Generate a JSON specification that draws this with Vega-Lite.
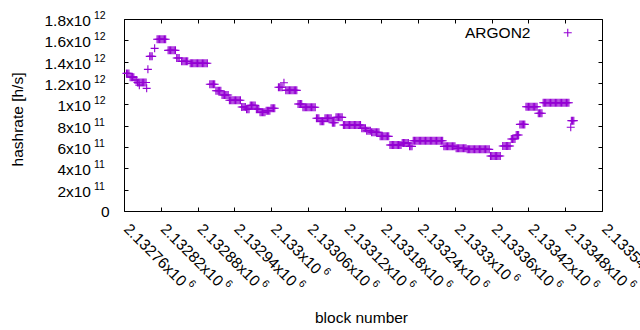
{
"$schema":"https://vega.github.io/schema/vega-lite/v6.json",
"width":478,"height":192,
"autosize":{"type":"none"},
"padding":{"left":124,"top":19,"right":38,"bottom":119},
"background":"white",
"config":{"view":{"stroke":"black","strokeWidth":1},
"axis":{"labelFont":"Liberation Sans","labelFontSize":15.5,"labelColor":"black","titleFont":"Liberation Sans","titleFontSize":15.5,"titleFontWeight":"normal","titleColor":"black","tickColor":"black","tickWidth":1,"domain":false,"grid":false}},
"data":{"values":[
{"block":2132764,"hashrate":1.29e12},{"block":2132766,"hashrate":1.29e12},{"block":2132768,"hashrate":1.29e12},
{"block":2132770,"hashrate":1.255e12},{"block":2132772,"hashrate":1.255e12},{"block":2132774,"hashrate":1.255e12},{"block":2132776,"hashrate":1.255e12},
{"block":2132778,"hashrate":1.228e12},{"block":2132780,"hashrate":1.228e12},
{"block":2132782,"hashrate":1.205e12},{"block":2132784,"hashrate":1.205e12},{"block":2132785,"hashrate":1.18e12},{"block":2132786,"hashrate":1.205e12},{"block":2132788,"hashrate":1.205e12},{"block":2132790,"hashrate":1.205e12},{"block":2132792,"hashrate":1.205e12},{"block":2132794,"hashrate":1.205e12},{"block":2132796,"hashrate":1.205e12},{"block":2132797,"hashrate":1.15e12},
{"block":2132799,"hashrate":1.328e12},
{"block":2132802,"hashrate":1.45e12},{"block":2132804,"hashrate":1.45e12},{"block":2132806,"hashrate":1.45e12},
{"block":2132810,"hashrate":1.525e12},
{"block":2132814,"hashrate":1.61e12},{"block":2132816,"hashrate":1.61e12},{"block":2132818,"hashrate":1.61e12},{"block":2132820,"hashrate":1.61e12},{"block":2132822,"hashrate":1.61e12},{"block":2132824,"hashrate":1.61e12},{"block":2132826,"hashrate":1.61e12},{"block":2132828,"hashrate":1.61e12},
{"block":2132832,"hashrate":1.506e12},{"block":2132834,"hashrate":1.506e12},{"block":2132836,"hashrate":1.506e12},{"block":2132838,"hashrate":1.506e12},{"block":2132840,"hashrate":1.506e12},{"block":2132842,"hashrate":1.506e12},{"block":2132844,"hashrate":1.506e12},
{"block":2132846,"hashrate":1.434e12},{"block":2132848,"hashrate":1.434e12},{"block":2132850,"hashrate":1.434e12},
{"block":2132854,"hashrate":1.403e12},{"block":2132856,"hashrate":1.403e12},{"block":2132858,"hashrate":1.403e12},{"block":2132860,"hashrate":1.403e12},{"block":2132862,"hashrate":1.403e12},{"block":2132864,"hashrate":1.403e12},
{"block":2132868,"hashrate":1.385e12},{"block":2132870,"hashrate":1.385e12},{"block":2132872,"hashrate":1.385e12},{"block":2132874,"hashrate":1.385e12},{"block":2132876,"hashrate":1.385e12},{"block":2132878,"hashrate":1.385e12},{"block":2132880,"hashrate":1.385e12},{"block":2132882,"hashrate":1.385e12},{"block":2132884,"hashrate":1.385e12},{"block":2132886,"hashrate":1.385e12},{"block":2132888,"hashrate":1.385e12},{"block":2132890,"hashrate":1.385e12},{"block":2132892,"hashrate":1.385e12},{"block":2132894,"hashrate":1.385e12},{"block":2132896,"hashrate":1.385e12},
{"block":2132900,"hashrate":1.188e12},{"block":2132902,"hashrate":1.188e12},{"block":2132904,"hashrate":1.188e12},{"block":2132906,"hashrate":1.188e12},{"block":2132908,"hashrate":1.188e12},
{"block":2132910,"hashrate":1.128e12},{"block":2132912,"hashrate":1.128e12},{"block":2132914,"hashrate":1.128e12},{"block":2132916,"hashrate":1.128e12},{"block":2132918,"hashrate":1.128e12},
{"block":2132920,"hashrate":1.087e12},{"block":2132922,"hashrate":1.087e12},{"block":2132924,"hashrate":1.087e12},{"block":2132926,"hashrate":1.087e12},{"block":2132928,"hashrate":1.087e12},{"block":2132930,"hashrate":1.087e12},
{"block":2132932,"hashrate":1.038e12},{"block":2132934,"hashrate":1.038e12},{"block":2132936,"hashrate":1.038e12},{"block":2132938,"hashrate":1.038e12},{"block":2132940,"hashrate":1.038e12},{"block":2132942,"hashrate":1.038e12},{"block":2132944,"hashrate":1.038e12},{"block":2132946,"hashrate":1.038e12},{"block":2132948,"hashrate":1.038e12},{"block":2132950,"hashrate":1.038e12},
{"block":2132952,"hashrate":9.75e11},{"block":2132954,"hashrate":9.75e11},{"block":2132956,"hashrate":9.75e11},{"block":2132958,"hashrate":9.75e11},
{"block":2132960,"hashrate":9.55e11},{"block":2132962,"hashrate":9.55e11},{"block":2132964,"hashrate":9.55e11},
{"block":2132966,"hashrate":9.9e11},{"block":2132968,"hashrate":9.9e11},{"block":2132970,"hashrate":9.9e11},{"block":2132972,"hashrate":9.9e11},{"block":2132974,"hashrate":9.9e11},
{"block":2132976,"hashrate":9.55e11},{"block":2132978,"hashrate":9.55e11},{"block":2132980,"hashrate":9.55e11},
{"block":2132982,"hashrate":9.25e11},{"block":2132984,"hashrate":9.25e11},{"block":2132986,"hashrate":9.25e11},{"block":2132988,"hashrate":9.25e11},{"block":2132990,"hashrate":9.25e11},
{"block":2132992,"hashrate":9.4e11},{"block":2132994,"hashrate":9.4e11},{"block":2132996,"hashrate":9.4e11},{"block":2132998,"hashrate":9.4e11},
{"block":2133000,"hashrate":9.63e11},{"block":2133002,"hashrate":9.63e11},{"block":2133004,"hashrate":9.63e11},{"block":2133006,"hashrate":9.63e11},
{"block":2133012,"hashrate":1.16e12},{"block":2133014,"hashrate":1.16e12},{"block":2133016,"hashrate":1.16e12},{"block":2133018,"hashrate":1.16e12},{"block":2133021,"hashrate":1.203e12},
{"block":2133024,"hashrate":1.131e12},{"block":2133026,"hashrate":1.131e12},{"block":2133028,"hashrate":1.131e12},{"block":2133030,"hashrate":1.131e12},{"block":2133032,"hashrate":1.131e12},{"block":2133034,"hashrate":1.131e12},{"block":2133036,"hashrate":1.131e12},{"block":2133038,"hashrate":1.131e12},{"block":2133040,"hashrate":1.131e12},{"block":2133042,"hashrate":1.131e12},
{"block":2133044,"hashrate":1.003e12},{"block":2133046,"hashrate":1.003e12},{"block":2133048,"hashrate":1.003e12},{"block":2133050,"hashrate":1.003e12},
{"block":2133052,"hashrate":9.72e11},{"block":2133054,"hashrate":9.72e11},{"block":2133056,"hashrate":9.72e11},{"block":2133058,"hashrate":9.72e11},{"block":2133060,"hashrate":9.72e11},{"block":2133062,"hashrate":9.72e11},{"block":2133064,"hashrate":9.72e11},{"block":2133066,"hashrate":9.72e11},{"block":2133068,"hashrate":9.72e11},{"block":2133070,"hashrate":9.72e11},{"block":2133072,"hashrate":9.72e11},
{"block":2133074,"hashrate":8.69e11},{"block":2133076,"hashrate":8.69e11},{"block":2133078,"hashrate":8.69e11},
{"block":2133080,"hashrate":8.41e11},{"block":2133082,"hashrate":8.41e11},{"block":2133084,"hashrate":8.41e11},{"block":2133086,"hashrate":8.41e11},
{"block":2133088,"hashrate":8.69e11},{"block":2133090,"hashrate":8.69e11},{"block":2133092,"hashrate":8.69e11},{"block":2133094,"hashrate":8.69e11},{"block":2133096,"hashrate":8.69e11},{"block":2133098,"hashrate":8.69e11},
{"block":2133100,"hashrate":8.28e11},{"block":2133102,"hashrate":8.28e11},{"block":2133104,"hashrate":8.28e11},
{"block":2133106,"hashrate":8.78e11},{"block":2133108,"hashrate":8.78e11},{"block":2133110,"hashrate":8.78e11},{"block":2133112,"hashrate":8.78e11},{"block":2133114,"hashrate":8.78e11},{"block":2133116,"hashrate":8.78e11},
{"block":2133118,"hashrate":8.06e11},{"block":2133120,"hashrate":8.06e11},{"block":2133122,"hashrate":8.06e11},{"block":2133124,"hashrate":8.06e11},{"block":2133126,"hashrate":8.06e11},{"block":2133128,"hashrate":8.06e11},{"block":2133130,"hashrate":8.06e11},{"block":2133132,"hashrate":8.06e11},{"block":2133134,"hashrate":8.06e11},{"block":2133136,"hashrate":8.06e11},{"block":2133138,"hashrate":8.06e11},{"block":2133140,"hashrate":8.06e11},{"block":2133142,"hashrate":8.06e11},{"block":2133144,"hashrate":8.06e11},{"block":2133146,"hashrate":8.06e11},
{"block":2133148,"hashrate":7.75e11},{"block":2133150,"hashrate":7.75e11},{"block":2133152,"hashrate":7.75e11},{"block":2133154,"hashrate":7.75e11},
{"block":2133156,"hashrate":7.53e11},{"block":2133158,"hashrate":7.53e11},{"block":2133160,"hashrate":7.53e11},{"block":2133162,"hashrate":7.53e11},
{"block":2133164,"hashrate":7.38e11},{"block":2133166,"hashrate":7.38e11},{"block":2133168,"hashrate":7.38e11},{"block":2133170,"hashrate":7.38e11},{"block":2133172,"hashrate":7.38e11},{"block":2133174,"hashrate":7.38e11},{"block":2133176,"hashrate":7.38e11},
{"block":2133178,"hashrate":7.0e11},{"block":2133180,"hashrate":7.0e11},{"block":2133182,"hashrate":7.0e11},{"block":2133184,"hashrate":7.0e11},{"block":2133186,"hashrate":7.0e11},{"block":2133188,"hashrate":7.0e11},{"block":2133190,"hashrate":7.0e11},{"block":2133192,"hashrate":7.0e11},
{"block":2133194,"hashrate":6.19e11},{"block":2133196,"hashrate":6.19e11},{"block":2133198,"hashrate":6.19e11},{"block":2133200,"hashrate":6.19e11},{"block":2133202,"hashrate":6.19e11},{"block":2133204,"hashrate":6.19e11},{"block":2133206,"hashrate":6.19e11},{"block":2133208,"hashrate":6.19e11},{"block":2133210,"hashrate":6.19e11},{"block":2133212,"hashrate":6.19e11},
{"block":2133214,"hashrate":6.375e11},{"block":2133216,"hashrate":6.375e11},{"block":2133218,"hashrate":6.375e11},{"block":2133220,"hashrate":6.375e11},{"block":2133222,"hashrate":6.375e11},{"block":2133224,"hashrate":6.375e11},
{"block":2133226,"hashrate":6.06e11},{"block":2133228,"hashrate":6.06e11},{"block":2133230,"hashrate":6.06e11},
{"block":2133232,"hashrate":6.59e11},{"block":2133234,"hashrate":6.59e11},{"block":2133236,"hashrate":6.59e11},{"block":2133238,"hashrate":6.59e11},{"block":2133240,"hashrate":6.59e11},{"block":2133242,"hashrate":6.59e11},{"block":2133244,"hashrate":6.59e11},{"block":2133246,"hashrate":6.59e11},{"block":2133248,"hashrate":6.59e11},{"block":2133250,"hashrate":6.59e11},{"block":2133252,"hashrate":6.59e11},{"block":2133254,"hashrate":6.59e11},{"block":2133256,"hashrate":6.59e11},{"block":2133258,"hashrate":6.59e11},{"block":2133260,"hashrate":6.59e11},{"block":2133262,"hashrate":6.59e11},{"block":2133264,"hashrate":6.59e11},{"block":2133266,"hashrate":6.59e11},{"block":2133268,"hashrate":6.59e11},{"block":2133270,"hashrate":6.59e11},{"block":2133272,"hashrate":6.59e11},{"block":2133274,"hashrate":6.59e11},{"block":2133276,"hashrate":6.59e11},{"block":2133278,"hashrate":6.59e11},{"block":2133280,"hashrate":6.59e11},
{"block":2133282,"hashrate":6.06e11},{"block":2133284,"hashrate":6.06e11},{"block":2133286,"hashrate":6.06e11},{"block":2133288,"hashrate":6.06e11},{"block":2133290,"hashrate":6.06e11},{"block":2133292,"hashrate":6.06e11},{"block":2133294,"hashrate":6.06e11},{"block":2133296,"hashrate":6.06e11},{"block":2133298,"hashrate":6.06e11},{"block":2133300,"hashrate":6.06e11},
{"block":2133302,"hashrate":5.88e11},{"block":2133304,"hashrate":5.88e11},{"block":2133306,"hashrate":5.88e11},{"block":2133308,"hashrate":5.88e11},{"block":2133310,"hashrate":5.88e11},{"block":2133312,"hashrate":5.88e11},{"block":2133314,"hashrate":5.88e11},{"block":2133316,"hashrate":5.88e11},{"block":2133318,"hashrate":5.88e11},
{"block":2133320,"hashrate":5.78e11},{"block":2133322,"hashrate":5.78e11},{"block":2133324,"hashrate":5.78e11},{"block":2133326,"hashrate":5.78e11},{"block":2133328,"hashrate":5.78e11},{"block":2133330,"hashrate":5.78e11},{"block":2133332,"hashrate":5.78e11},{"block":2133334,"hashrate":5.78e11},{"block":2133336,"hashrate":5.78e11},{"block":2133338,"hashrate":5.78e11},{"block":2133340,"hashrate":5.78e11},{"block":2133342,"hashrate":5.78e11},{"block":2133344,"hashrate":5.78e11},{"block":2133346,"hashrate":5.78e11},{"block":2133348,"hashrate":5.78e11},{"block":2133350,"hashrate":5.78e11},{"block":2133352,"hashrate":5.78e11},{"block":2133354,"hashrate":5.78e11},{"block":2133356,"hashrate":5.78e11},
{"block":2133358,"hashrate":5.16e11},{"block":2133360,"hashrate":5.16e11},{"block":2133362,"hashrate":5.16e11},{"block":2133364,"hashrate":5.16e11},{"block":2133366,"hashrate":5.16e11},{"block":2133368,"hashrate":5.16e11},{"block":2133370,"hashrate":5.16e11},{"block":2133372,"hashrate":5.16e11},{"block":2133374,"hashrate":5.16e11},
{"block":2133378,"hashrate":6.09e11},{"block":2133380,"hashrate":6.09e11},{"block":2133382,"hashrate":6.09e11},{"block":2133384,"hashrate":6.09e11},{"block":2133386,"hashrate":6.09e11},{"block":2133388,"hashrate":6.09e11},{"block":2133390,"hashrate":6.09e11},
{"block":2133392,"hashrate":6.75e11},{"block":2133394,"hashrate":6.75e11},{"block":2133396,"hashrate":6.75e11},{"block":2133398,"hashrate":6.75e11},
{"block":2133400,"hashrate":7.12e11},{"block":2133402,"hashrate":7.12e11},{"block":2133404,"hashrate":7.12e11},
{"block":2133406,"hashrate":8.12e11},{"block":2133408,"hashrate":8.12e11},{"block":2133410,"hashrate":8.12e11},{"block":2133412,"hashrate":8.12e11},{"block":2133414,"hashrate":8.12e11},
{"block":2133416,"hashrate":9.78e11},{"block":2133418,"hashrate":9.78e11},{"block":2133420,"hashrate":9.78e11},{"block":2133422,"hashrate":9.78e11},{"block":2133424,"hashrate":9.78e11},{"block":2133426,"hashrate":9.78e11},{"block":2133428,"hashrate":9.78e11},{"block":2133430,"hashrate":9.78e11},{"block":2133432,"hashrate":9.78e11},{"block":2133434,"hashrate":9.78e11},
{"block":2133436,"hashrate":9.16e11},{"block":2133438,"hashrate":9.16e11},{"block":2133440,"hashrate":9.16e11},{"block":2133442,"hashrate":9.16e11},
{"block":2133444,"hashrate":1.015e12},{"block":2133446,"hashrate":1.015e12},{"block":2133448,"hashrate":1.015e12},{"block":2133450,"hashrate":1.015e12},{"block":2133452,"hashrate":1.015e12},{"block":2133454,"hashrate":1.015e12},{"block":2133456,"hashrate":1.015e12},{"block":2133458,"hashrate":1.015e12},{"block":2133460,"hashrate":1.015e12},{"block":2133462,"hashrate":1.015e12},{"block":2133464,"hashrate":1.015e12},{"block":2133466,"hashrate":1.015e12},{"block":2133468,"hashrate":1.015e12},{"block":2133470,"hashrate":1.015e12},{"block":2133472,"hashrate":1.015e12},{"block":2133474,"hashrate":1.015e12},{"block":2133476,"hashrate":1.015e12},{"block":2133478,"hashrate":1.015e12},{"block":2133480,"hashrate":1.015e12},{"block":2133482,"hashrate":1.015e12},{"block":2133484,"hashrate":1.015e12},{"block":2133486,"hashrate":1.015e12},
{"block":2133489,"hashrate":7.85e11},{"block":2133490,"hashrate":8.47e11},{"block":2133492,"hashrate":8.47e11},{"block":2133494,"hashrate":8.47e11}
]},
"layer":[
{"mark":{"type":"point","shape":"M-1,0H1M0,-1V1","size":64,"filled":false,"strokeWidth":1.1,"opacity":1},
"encoding":{
"x":{"field":"block","type":"quantitative","scale":{"domain":[2132760,2133540],"nice":false,"zero":false},
"axis":{"orient":"bottom","values":[2132760,2132820,2132880,2132940,2133000,2133060,2133120,2133180,2133240,2133300,2133360,2133420,2133480,2133540],
"labels":false,"tickSize":-4,"title":"block number","titleX":237,"titleY":111,"titleBaseline":"alphabetic","titleAlign":"center"}},
"y":{"field":"hashrate","type":"quantitative","scale":{"domain":[0,1.8e12],"nice":false,"zero":true},
"axis":{"orient":"left","values":[0,2e11,4e11,6e11,8e11,1e12,1.2e12,1.4e12,1.6e12,1.8e12],
"labelExpr":"datum.value==0?'0':''",
"labelFontSize":15.5,"labelPadding":19,
"labelFlush":false,"labelOverlap":false,"labelBound":false,"tickSize":-4,
"title":"hashrate [h/s]","titleAngle":270,"titleX":-107,"titleY":100,"titleAlign":"center","titleBaseline":"middle"}},
"color":{"datum":"ARGON2","type":"nominal","scale":{"range":["#9400d3"]},
"legend":{"orient":"none","legendX":436,"legendY":6,"title":null,"labelFont":"Liberation Sans","labelFontSize":15.5,"labelColor":"black","labelAlign":"right","labelOffset":-45,"symbolType":"M-1,0H1M0,-1V1","symbolSize":64,"symbolStrokeWidth":1.1,"symbolFillColor":"transparent","padding":0}}
}},
{"mark":{"type":"point","opacity":0},
"encoding":{
"x":{"field":"block","type":"quantitative","axis":{"orient":"top","values":[2132760,2132820,2132880,2132940,2133000,2133060,2133120,2133180,2133240,2133300,2133360,2133420,2133480,2133540],"labels":false,"tickSize":-4,"title":null}},
"y":{"field":"hashrate","type":"quantitative","axis":{"orient":"right","values":[0,2e11,4e11,6e11,8e11,1e12,1.2e12,1.4e12,1.6e12,1.8e12],"labels":false,"tickSize":-4,"title":null}}
}},
{"data":{"values":[
{"tick":2e11,"mantissa":"2x10","exponent":"11"},{"tick":4e11,"mantissa":"4x10","exponent":"11"},{"tick":6e11,"mantissa":"6x10","exponent":"11"},{"tick":8e11,"mantissa":"8x10","exponent":"11"},
{"tick":1e12,"mantissa":"1x10","exponent":"12"},{"tick":1.2e12,"mantissa":"1.2x10","exponent":"12"},{"tick":1.4e12,"mantissa":"1.4x10","exponent":"12"},{"tick":1.6e12,"mantissa":"1.6x10","exponent":"12"},{"tick":1.8e12,"mantissa":"1.8x10","exponent":"12"}]},
"layer":[
{"mark":{"type":"text","align":"left","baseline":"alphabetic","dx":-30,"dy":0,"font":"Liberation Sans","fontSize":10.5,"color":"black"},
"encoding":{
"x":{"datum":2132760,"type":"quantitative","axis":null},
"y":{"field":"tick","type":"quantitative","axis":null},
"text":{"field":"exponent"}}},
{"mark":{"type":"text","align":"right","baseline":"middle","dx":-33,"dy":2,"font":"Liberation Sans","fontSize":15.5,"color":"black"},
"encoding":{
"x":{"datum":2132760,"type":"quantitative","axis":null},
"y":{"field":"tick","type":"quantitative","axis":null},
"text":{"field":"mantissa"}}}
]},
{"data":{"values":[
{"tick":2132760,"mantissa":"2.13276x10","exponent":"6"},{"tick":2132820,"mantissa":"2.13282x10","exponent":"6"},{"tick":2132880,"mantissa":"2.13288x10","exponent":"6"},{"tick":2132940,"mantissa":"2.13294x10","exponent":"6"},
{"tick":2133000,"mantissa":"2.133x10","exponent":"6"},{"tick":2133060,"mantissa":"2.13306x10","exponent":"6"},{"tick":2133120,"mantissa":"2.13312x10","exponent":"6"},{"tick":2133180,"mantissa":"2.13318x10","exponent":"6"},
{"tick":2133240,"mantissa":"2.13324x10","exponent":"6"},{"tick":2133300,"mantissa":"2.1333x10","exponent":"6"},{"tick":2133360,"mantissa":"2.13336x10","exponent":"6"},{"tick":2133420,"mantissa":"2.13342x10","exponent":"6"},
{"tick":2133480,"mantissa":"2.13348x10","exponent":"6"},{"tick":2133540,"mantissa":"2.13354x10","exponent":"6"}]},
"layer":[
{"mark":{"type":"text","align":"left","baseline":"middle","angle":45,"dx":12.7,"dy":9.2,"font":"Liberation Sans","fontSize":15.5,"color":"black"},
"encoding":{
"x":{"field":"tick","type":"quantitative","axis":null},
"y":{"datum":0,"type":"quantitative","axis":null},
"text":{"field":"mantissa"}}},
{"transform":[{"filter":"length(datum.mantissa)==10"}],
"mark":{"type":"text","align":"left","baseline":"alphabetic","angle":45,"dx":96.7,"dy":6.45,"font":"Liberation Sans","fontSize":10.5,"color":"black"},
"encoding":{
"x":{"field":"tick","type":"quantitative","axis":null},
"y":{"datum":0,"type":"quantitative","axis":null},
"text":{"field":"exponent"}}},
{"transform":[{"filter":"length(datum.mantissa)==9"}],
"mark":{"type":"text","align":"left","baseline":"alphabetic","angle":45,"dx":88.1,"dy":6.45,"font":"Liberation Sans","fontSize":10.5,"color":"black"},
"encoding":{
"x":{"field":"tick","type":"quantitative","axis":null},
"y":{"datum":0,"type":"quantitative","axis":null},
"text":{"field":"exponent"}}},
{"transform":[{"filter":"length(datum.mantissa)==8"}],
"mark":{"type":"text","align":"left","baseline":"alphabetic","angle":45,"dx":79.5,"dy":6.45,"font":"Liberation Sans","fontSize":10.5,"color":"black"},
"encoding":{
"x":{"field":"tick","type":"quantitative","axis":null},
"y":{"datum":0,"type":"quantitative","axis":null},
"text":{"field":"exponent"}}}
]}
],
"resolve":{"axis":{"x":"independent","y":"independent"}}
}
